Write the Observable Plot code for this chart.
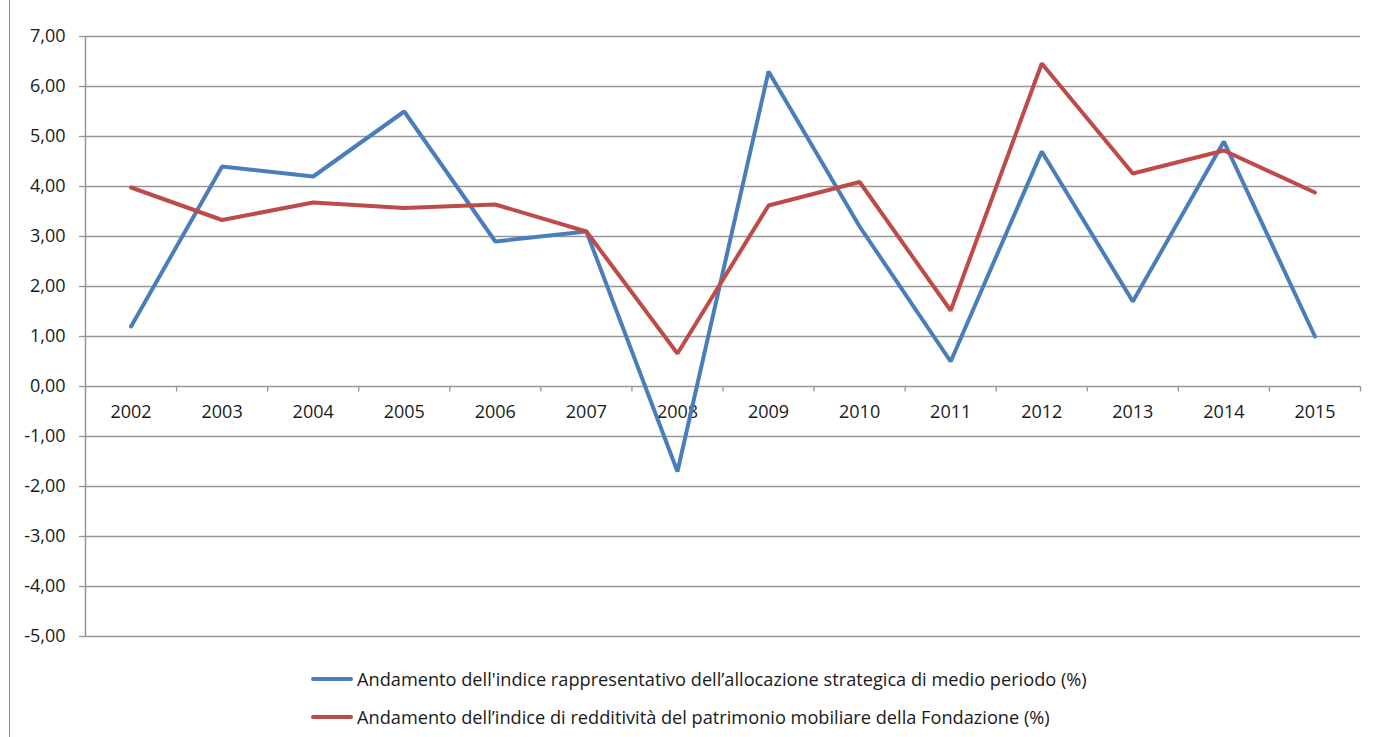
<!DOCTYPE html>
<html>
<head>
<meta charset="utf-8">
<script src="https://cdn.jsdelivr.net/npm/d3@7"></script>
<script src="https://cdn.jsdelivr.net/npm/@observablehq/plot@0.6"></script>
<style>
  html, body { margin: 0; padding: 0; background: #fff; }
  body { width: 1373px; height: 737px; position: relative; overflow: hidden; font-family: "Open Sans", sans-serif; }
  #frame { position: absolute; left: 9px; top: 0; width: 0; height: 737px; border-left: 1.5px solid #8c8c8c; z-index: 5; }
  #chart { position: absolute; left: 0; top: 0; }
  #legend { position: absolute; left: 311px; top: 667px; font-size: 18.2px; color: #1a1a1a; z-index: 5; }
  .item { display: flex; align-items: center; height: 24px; margin-bottom: 14px; white-space: nowrap; }
  .sw { width: 42px; height: 4px; border-radius: 2px; margin-right: 4px; }
</style>
</head>
<body>
<div id="chart"></div>
<div id="frame"></div>
<div id="legend"></div>
<script>
const years = ["2002","2003","2004","2005","2006","2007","2008","2009","2010","2011","2012","2013","2014","2015"];
const allocazione = [1.2, 4.4, 4.2, 5.5, 2.9, 3.1, -1.7, 6.3, 3.2, 0.5, 4.7, 1.7, 4.9, 1.0];
const redditivita = [3.98, 3.33, 3.68, 3.57, 3.64, 3.1, 0.66, 3.62, 4.09, 1.52, 6.46, 4.26, 4.72, 3.88];
const yTicks = [7, 6, 5, 4, 3, 2, 1, 0, -1, -2, -3, -4, -5];
const seriesNames = [
  "Andamento dell'indice rappresentativo dell\u2019allocazione strategica di medio periodo (%)",
  "Andamento dell\u2019indice di redditivit\u00e0 del patrimonio mobiliare della Fondazione (%)"
];
const colors = ["#4a7ebb", "#be4b48"];

const rows = [];
years.forEach((y, i) => {
  rows.push({i, year: y, value: allocazione[i], s: seriesNames[0]});
});
years.forEach((y, i) => {
  rows.push({i, year: y, value: redditivita[i], s: seriesNames[1]});
});
const boundaries = d3.range(years.length + 1).map(k => k - 0.5);
const yearRows = years.map((y, i) => ({i, year: y}));
const fmt = d => d3.format(".2f")(d).replace(".", ",").replace("\u2212", "-");

const chart = Plot.plot({
  width: 1373,
  height: 650,
  marginTop: 36,
  marginBottom: 14,
  marginLeft: 85,
  marginRight: 13,
  style: {fontFamily: "'Open Sans', sans-serif", fontSize: "18px", color: "#1a1a1a", background: "transparent"},
  x: {domain: [-0.5, years.length - 0.5], axis: null},
  y: {domain: [-5, 7], axis: null},
  marks: [
    Plot.ruleY(yTicks, {stroke: "#969696", strokeWidth: 1.3, strokeOpacity: 1}),
    Plot.axisY(yTicks, {label: null, tickSize: 6, tickPadding: 14, tickFormat: fmt, stroke: "#969696", strokeOpacity: 1, strokeWidth: 1.3, fill: "#1a1a1a", fontSize: 18}),
    Plot.ruleX([-0.5], {stroke: "#969696", strokeWidth: 1.5}),
    Plot.ruleX(boundaries.slice(1), {y1: 0, y2: -0.11, stroke: "#969696", strokeWidth: 1.3}),
    Plot.text(yearRows, {x: "i", y: () => 0, text: "year", dy: 26, fill: "#1a1a1a", fontSize: 18}),
    Plot.line(rows, {x: "i", y: "value", z: "s", stroke: "s", strokeWidth: 4, strokeLinejoin: "miter", strokeLinecap: "round"})
  ],
  color: {domain: seriesNames, range: colors}
});
document.getElementById("chart").appendChild(chart);

const legend = document.getElementById("legend");
seriesNames.forEach((n, k) => {
  const it = document.createElement("div");
  it.className = "item";
  const sw = document.createElement("div");
  sw.className = "sw";
  sw.style.background = colors[k];
  const t = document.createElement("span");
  t.textContent = n;
  it.appendChild(sw);
  it.appendChild(t);
  legend.appendChild(it);
});
</script>
</body>
</html>
